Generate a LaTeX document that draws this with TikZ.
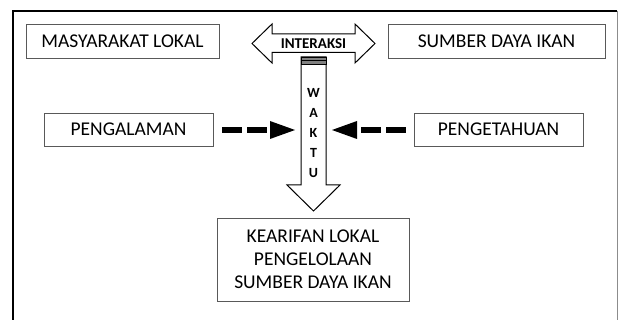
\documentclass[tikz,border=0pt]{standalone}
\usepackage{fontspec}
\setmainfont{Carlito}
\usetikzlibrary{arrows.meta}
\begin{document}
\begin{tikzpicture}[x=1pt,y=-1pt,
  box/.style={draw=black!65, line width=0.8pt, fill=white, inner sep=0pt,
    font=\fontsize{19.5}{23}\selectfont, text=black, align=center},
  hollow/.style={draw=black, line width=1pt, fill=white, line join=miter},
  dasharrow/.style={line width=6pt, black, dash pattern=on 20pt off 5pt,
    -{Triangle[length=25pt,width=18pt,line width=0pt]}},
  lbl/.style={inner sep=0pt, text=black}]
\useasboundingbox (0,0) rectangle (618,320);
% frame
\draw[line width=1.2pt] (13,330) -- (13,11) -- (617,11);
\draw[black!45, line width=1pt] (617,11) -- (617,330);

% top boxes
\node[box, minimum width=193pt, minimum height=34pt] (masy) at (122.5,41) {MASYARAKAT LOKAL};
\node[box, minimum width=217pt, minimum height=34pt] (sdi) at (496.5,41) {SUMBER DAYA IKAN};

% double arrow INTERAKSI
\draw[hollow] (252,43.5) -- (272,24) -- (272,34) -- (355,34) -- (355,24) -- (375,43.5)
  -- (355,63) -- (355,52.5) -- (272,52.5) -- (272,63) -- cycle;
\node[lbl, font=\fontsize{15}{15}\selectfont\bfseries] (interaksi) at (313.5,43.5) {INTERAKSI};

% vertical arrow WAKTU
\draw[hollow] (301,57) -- (326,57) -- (326,185) -- (340,185) -- (313.5,211)
  -- (287,185) -- (301,185) -- cycle;
\draw[fill=black!50, line width=0.8pt] (301,57) rectangle (326,64.5);
\draw[black, line width=0.6pt] (301,60.5) -- (326,60.5);
\node[lbl, font=\fontsize{14}{20}\selectfont\bfseries, align=center] (waktu) at (313.5,133) {W\\A\\K\\T\\U};

\coordinate (wl) at (295,130);
\coordinate (wr) at (332,130);

% side boxes
\node[box, minimum width=169pt, minimum height=33pt] (peng) at (128.5,129.5) {PENGALAMAN};
\node[box, minimum width=169pt, minimum height=33pt] (pengt) at (498.5,129.5) {PENGETAHUAN};

\draw[dasharrow] ([xshift=9pt]peng.east |- wl) -- (wl);
\draw[dasharrow] ([xshift=-8pt]pengt.west |- wr) -- (wr);

% bottom box
\node[box, minimum width=192pt, minimum height=83pt] (kear) at (313,259.5)
  {KEARIFAN LOKAL\\PENGELOLAAN\\SUMBER DAYA IKAN};
\end{tikzpicture}
\end{document}
